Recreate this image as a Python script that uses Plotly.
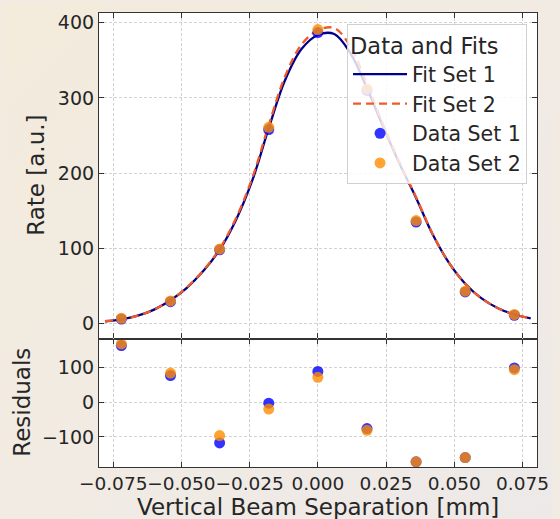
import base64
import plotly.graph_objects as go

# ---------------- data ----------------
x_data = [-0.072, -0.054, -0.036, -0.018, 0.0, 0.018, 0.036, 0.054, 0.072]
rate_set1 = [6, 29, 98, 258, 387, 310, 135, 42, 11]
rate_set2 = [7, 30, 99, 261, 391, 312, 137, 43, 12]
resid_set1 = [162, 76, -117, -3, 88, -76, -171, -159, 98]
resid_set2 = [167, 83, -96, -20, 71, -81, -171, -159, 93]

fit_x = [-0.078, -0.072, -0.066, -0.060, -0.054, -0.048, -0.042, -0.036, -0.030,
         -0.024, -0.018, -0.012, -0.006, 0.000, 0.006, 0.012, 0.018, 0.024,
         0.030, 0.036, 0.042, 0.048, 0.054, 0.060, 0.066, 0.072, 0.078]
fit_set1 = [3.0, 5.5, 10.4, 18.5, 30.9, 47.5, 69.7, 98.0, 137.7, 190.6, 259.8, 323.8,
            365.0, 383.8, 385.0, 359.0, 313.0, 261.0, 212.0, 167.0, 119.0, 81.0,
            53.0, 33.4, 20.4, 12.0, 6.8]
fit_set2 = [3.0, 5.5, 10.4, 18.5, 31.0, 48.0, 70.5, 99.5, 140.0, 194.0, 264.0, 329.0,
            371.0, 390.0, 393.0, 368.0, 318.0, 264.0, 214.0, 168.0, 119.5, 81.0,
            53.0, 33.4, 20.4, 12.0, 6.8]

x_ticks = [-0.075, -0.050, -0.025, 0.000, 0.025, 0.050, 0.075]
rate_ticks = [0, 100, 200, 300, 400]
resid_ticks = [-100, 0, 100]

# ---------------- style ----------------
FONT = "DejaVu Sans"
TXT = "#262626"
W, H = 560, 519
ML, MR, MT, MB = 99, 16, 11, 52
PW, PH = W - ML - MR, H - MT - MB
split = 129 / PH

BLUE = "rgba(0,0,255,0.8)"
ORANGE = "rgba(255,140,0,0.8)"
NAVY = "#00008B"
RED = "#F05A28"

fig = go.Figure()

fig.add_trace(go.Scatter(x=fit_x, y=fit_set1, mode="lines", name="Fit Set 1",
                         line=dict(color=NAVY, width=2.3, shape="spline", smoothing=1.0),
                         xaxis="x2", yaxis="y2", legendgroup="a"))
fig.add_trace(go.Scatter(x=fit_x, y=fit_set2, mode="lines", name="Fit Set 2",
                         line=dict(color=RED, width=2.3, dash="8px,5px", shape="spline", smoothing=1.0),
                         xaxis="x2", yaxis="y2", legendgroup="b"))
fig.add_trace(go.Scatter(x=x_data, y=rate_set1, mode="markers", name="Data Set 1",
                         marker=dict(color=BLUE, size=11, line=dict(width=0)),
                         xaxis="x2", yaxis="y2", legendgroup="c"))
fig.add_trace(go.Scatter(x=x_data, y=rate_set2, mode="markers", name="Data Set 2",
                         marker=dict(color=ORANGE, size=11, line=dict(width=0)),
                         xaxis="x2", yaxis="y2", legendgroup="d"))

fig.add_trace(go.Scatter(x=x_data, y=resid_set1, mode="markers", showlegend=False,
                         marker=dict(color=BLUE, size=11, line=dict(width=0)),
                         xaxis="x", yaxis="y"))
fig.add_trace(go.Scatter(x=x_data, y=resid_set2, mode="markers", showlegend=False,
                         marker=dict(color=ORANGE, size=11, line=dict(width=0)),
                         xaxis="x", yaxis="y"))

axis_common = dict(
    showline=True, linecolor="#333333", linewidth=1.2, mirror="allticks",
    ticks="inside", ticklen=5, tickwidth=1, tickcolor="#333333",
    showgrid=True, gridcolor="#d2d2d2", gridwidth=0.8, griddash="3px,2px",
    zeroline=False, tickfont=dict(family=FONT, size=19, color=TXT),
)

svg = (
    f'<svg xmlns="http://www.w3.org/2000/svg" width="{W}" height="{H}">'
    '<defs><linearGradient id="g" x1="0" y1="0" x2="1" y2="1">'
    '<stop offset="0" stop-color="#F3EBDB"/>'
    '<stop offset="0.5" stop-color="#F1EBE3"/>'
    '<stop offset="1" stop-color="#EDE9E8"/>'
    '</linearGradient></defs>'
    f'<rect width="{W}" height="{H}" fill="url(#g)"/></svg>'
)
bg_src = "data:image/svg+xml;base64," + base64.b64encode(svg.encode()).decode()

white_panels = [
    dict(type="rect", xref="x domain", yref="y domain", x0=0, x1=1, y0=0, y1=1,
         fillcolor="white", line=dict(width=0), layer="below"),
    dict(type="rect", xref="x2 domain", yref="y2 domain", x0=0, x1=1, y0=0, y1=1,
         fillcolor="white", line=dict(width=0), layer="below"),
]

xaxis_bottom = dict(axis_common)
xaxis_bottom["tickfont"] = dict(family=FONT, size=18.5, color=TXT)

fig.update_layout(
    width=W, height=H,
    margin=dict(l=ML, r=MR, t=MT, b=MB),
    paper_bgcolor="#F1EBE3", plot_bgcolor="white",
    font=dict(family=FONT, size=19, color=TXT),
    xaxis=dict(**xaxis_bottom, domain=[0, 1], range=[-0.0802, 0.0803],
               tickvals=x_ticks, tickformat=".3f", tickangle=0, anchor="y"),
    yaxis=dict(**axis_common, domain=[0, split], range=[-186, 182],
               tickvals=resid_ticks, anchor="x"),
    xaxis2=dict(**axis_common, domain=[0, 1], range=[-0.0802, 0.0803],
                tickvals=x_ticks, showticklabels=False, anchor="y2", matches="x"),
    yaxis2=dict(**axis_common, domain=[split, 1], range=[-20, 413],
                tickvals=rate_ticks, anchor="x2"),
    legend=dict(
        x=(351 - ML) / PW, y=(H - MB - 22) / PH, xanchor="left", yanchor="top",
        bgcolor="rgba(255,255,255,0.82)", bordercolor="#d0d0d0", borderwidth=1,
        font=dict(family=FONT, size=20.5, color=TXT),
        title=dict(text="Data and Fits", font=dict(family=FONT, size=22.5, color=TXT)),
        tracegroupgap=0, traceorder="grouped", itemwidth=54,
    ),
    shapes=white_panels,
    images=[dict(source=bg_src, xref="paper", yref="paper",
                 x=-ML / PW, y=1 + MT / PH, sizex=W / PW, sizey=H / PH,
                 xanchor="left", yanchor="top", sizing="stretch", layer="below")],
    annotations=[
        dict(text="Rate [a.u.]", xref="paper", yref="paper", x=0, xshift=36 - ML,
             y=(split + 1) / 2, textangle=-90, showarrow=False,
             xanchor="center", yanchor="middle", font=dict(family=FONT, size=23, color=TXT)),
        dict(text="Residuals", xref="paper", yref="paper", x=0, xshift=22 - ML,
             y=split / 2, textangle=-90, showarrow=False,
             xanchor="center", yanchor="middle", font=dict(family=FONT, size=23, color=TXT)),
        dict(text="Vertical Beam Separation [mm]", xref="paper", yref="paper",
             x=0.5, y=0, yshift=-(507 - (H - MB)), showarrow=False,
             xanchor="center", yanchor="middle", font=dict(family=FONT, size=23, color=TXT)),
    ],
)

fig.write_html("out.html")
